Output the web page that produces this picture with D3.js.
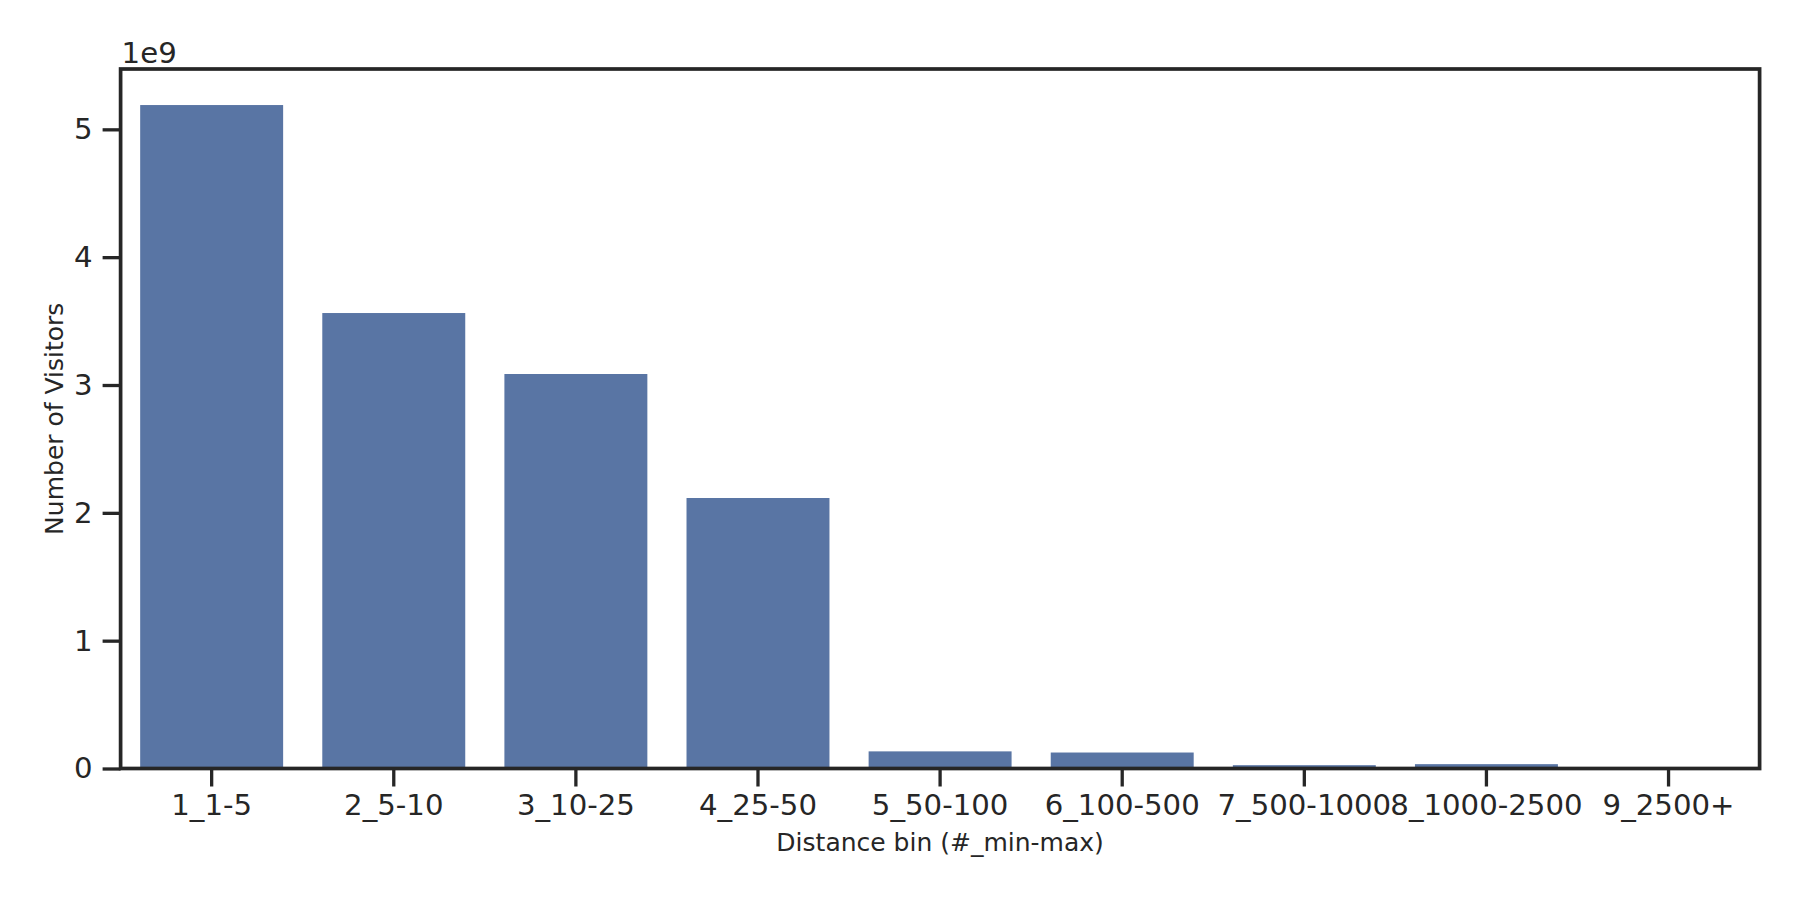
<!DOCTYPE html>
<html>
<head>
<meta charset="utf-8">
<script src="https://cdn.jsdelivr.net/npm/d3@7"></script>
<style>
  body { margin: 0; background: #fff; }
  text { font-family: "DejaVu Sans", sans-serif; fill: #262626; }
</style>
</head>
<body>
<svg id="chart" width="1800" height="900"></svg>
<script>
// distance bins and visitor counts (in units of 1e9)
const categories = ["1_1-5", "2_5-10", "3_10-25", "4_25-50", "5_50-100",
  "6_100-500", "7_500-1000", "8_1000-2500", "9_2500+"];
const visitors = [5.19, 3.563, 3.086, 2.116, 0.134, 0.125, 0.026, 0.034, 0.002];
const yTicks = [0, 1, 2, 3, 4, 5];

const data = categories.map((c, i) => ({ bin: c, value: visitors[i] }));

const svg = d3.select("#chart");
const margin = { top: 69, right: 40.4, bottom: 131.5, left: 120.6 };
const width = 1800 - margin.left - margin.right,
  height = 900 - margin.top - margin.bottom;

const ink = "#262626";
const tickFont = 29.2;

const x = d3.scaleBand()
  .domain(categories)
  .range([0, width])
  .paddingInner(0.215)
  .paddingOuter(0.1075);

const y = d3.scaleLinear().domain([0, 5.472]).range([height, 0]);

const chart = svg.append("g")
  .attr("transform", "translate(" + margin.left + "," + margin.top + ")");

chart.selectAll(".bar")
  .data(data)
  .enter()
  .append("rect")
  .attr("class", "bar")
  .attr("x", d => x(d.bin))
  .attr("y", d => y(d.value))
  .attr("width", x.bandwidth())
  .attr("height", d => height - y(d.value))
  .attr("fill", "#5975a4");

// axes
const xAxis = chart.append("g")
  .attr("transform", "translate(0," + height + ")")
  .call(d3.axisBottom(x).tickSize(18).tickPadding(8));

const yAxis = chart.append("g")
  .call(d3.axisLeft(y).tickValues(yTicks).tickFormat(d3.format("d")).tickSize(18).tickPadding(10));

[xAxis, yAxis].forEach(a => {
  a.select(".domain").remove();
  a.selectAll(".tick line").attr("stroke", ink).attr("stroke-width", 3.3);
  a.selectAll(".tick text").attr("font-size", tickFont).attr("fill", ink)
    .attr("font-family", "DejaVu Sans");
});
xAxis.selectAll(".tick text").attr("dy", "0.71em");

// frame
chart.append("rect")
  .attr("x", 0).attr("y", 0)
  .attr("width", width).attr("height", height)
  .attr("fill", "none")
  .attr("stroke", ink)
  .attr("stroke-width", 3.7);

// offset text
chart.append("text")
  .attr("x", 1)
  .attr("y", -6)
  .attr("font-size", tickFont)
  .text("1e9");

// axis labels
svg.append("text")
  .attr("x", margin.left + width / 2)
  .attr("y", 850.7)
  .attr("text-anchor", "middle")
  .attr("font-size", 25)
  .text("Distance bin (#_min-max)");

svg.append("text")
  .attr("transform", "translate(62.7," + (margin.top + height / 2) + ") rotate(-90)")
  .attr("text-anchor", "middle")
  .attr("font-size", 25)
  .text("Number of Visitors");
</script>
</body>
</html>
